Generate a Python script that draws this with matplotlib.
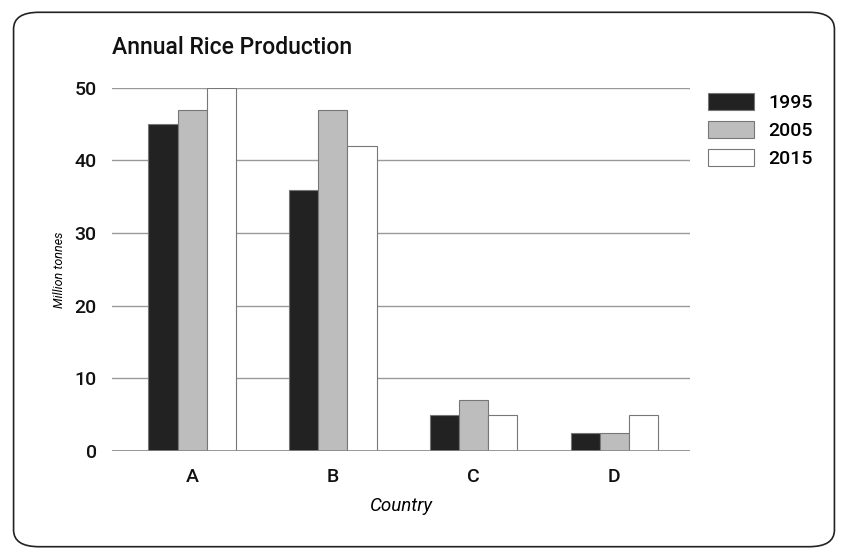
import numpy as np
import matplotlib
matplotlib.use("Agg")
import matplotlib.pyplot as plt
from matplotlib.patches import FancyBboxPatch

countries = ['A', 'B', 'C', 'D']
years = ['1995', '2005', '2015']
prod_1995 = [45, 36, 5, 2.5]
prod_2005 = [47, 47, 7, 2.5]
prod_2015 = [50, 42, 5, 5]

plt.rcParams['font.family'] = ['Roboto', 'DejaVu Sans']

fig = plt.figure(figsize=(8.48, 5.59), dpi=100)
# rounded frame around the whole picture
frame = FancyBboxPatch((0.016, 0.022), 0.968, 0.956,
                       boxstyle="round,pad=0,rounding_size=0.03",
                       transform=fig.transFigure, fill=False,
                       edgecolor='#222222', linewidth=1.2)
fig.patches.append(frame)

ax = fig.add_axes([0.132, 0.193, 0.682, 0.65])

x = np.arange(len(countries))
w = 0.207
colors = ['#222222', '#bdbdbd', '#ffffff']
for i, (vals, c, lab) in enumerate(zip([prod_1995, prod_2005, prod_2015], colors, years)):
    ax.bar(x + (i - 1) * w, vals, w, color=c, edgecolor='#777777',
           linewidth=0.8, label=lab, zorder=3)

ax.set_ylim(0, 50)
ax.set_xlim(-0.57, 3.54)
ax.set_yticks(range(0, 51, 10))
ax.set_xticks(x)
ax.set_xticklabels(countries)
ax.tick_params(length=0, labelsize=14, colors='#111111')
ax.tick_params(axis='y', pad=11)
ax.tick_params(axis='x', pad=12)
for lbl in ax.get_xticklabels() + ax.get_yticklabels():
    lbl.set_fontweight('medium')
ax.grid(axis='y', color='#999999', linewidth=1.0, zorder=0)
ax.axhline(0, color='#888888', linewidth=1.2, zorder=4)
for s in ax.spines.values():
    s.set_visible(False)

ax.set_ylabel('Million tonnes', style='italic', fontsize=9, labelpad=6)
ax.set_xlabel('Country', style='italic', fontsize=13.5, labelpad=8)
fig.text(0.132, 0.895, 'Annual Rice Production', fontsize=16.5, weight='medium',
         ha='left', va='bottom', color='#111111')

leg = ax.legend(loc='upper left', bbox_to_anchor=(1.0, 1.035), frameon=False,
                fontsize=14, handlelength=2.4, handleheight=1.0,
                labelspacing=0.45, handletextpad=0.7)
for t in leg.get_texts():
    t.set_fontweight('medium')

fig.savefig('out.png', dpi=100, facecolor='white')
